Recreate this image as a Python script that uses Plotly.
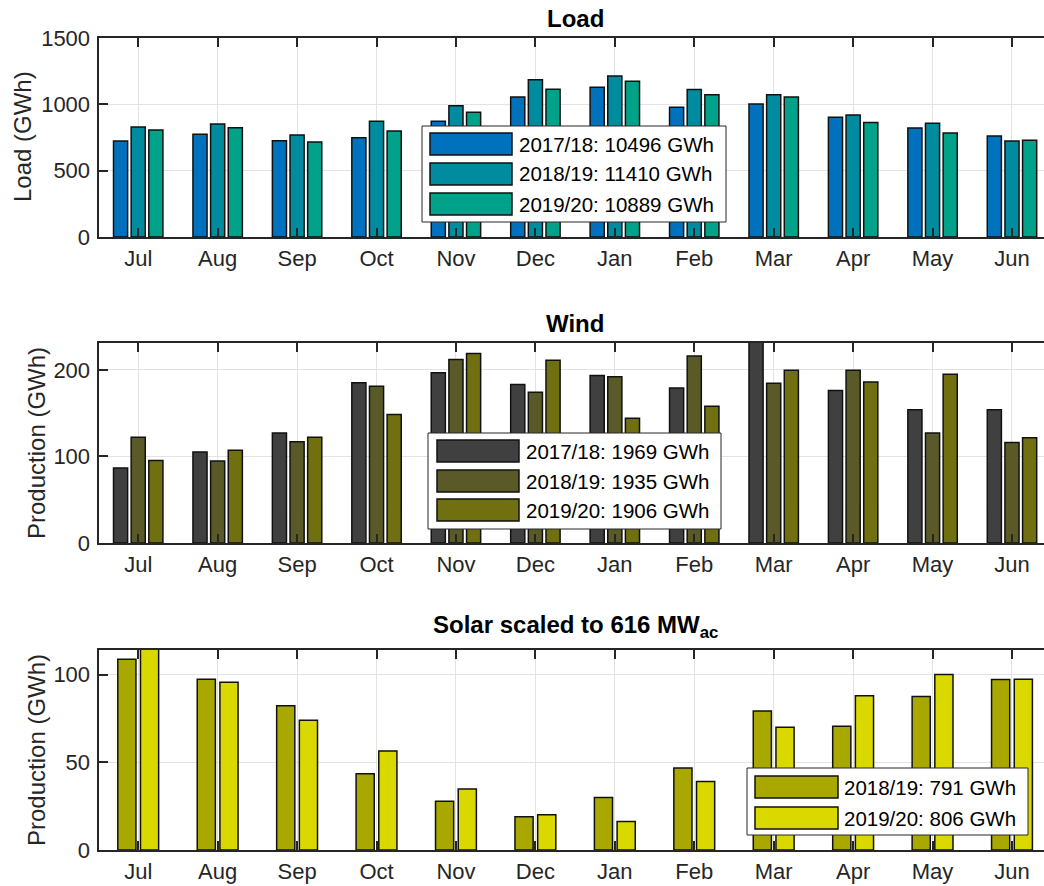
import plotly.graph_objects as go

# ---------------- data ----------------
months = ["Jul", "Aug", "Sep", "Oct", "Nov", "Dec", "Jan", "Feb", "Mar", "Apr", "May", "Jun"]
month_idx = list(range(1, 13))

load_seasons = ["2017/18", "2018/19", "2019/20"]
load_totals = [10496, 11410, 10889]
load_2017_18 = [724, 774, 726, 749, 872, 1055, 1128, 978, 1003, 902, 822, 761]
load_2018_19 = [829, 852, 769, 872, 990, 1186, 1214, 1111, 1073, 920, 857, 724]
load_2019_20 = [807, 824, 716, 799, 940, 1113, 1174, 1073, 1055, 864, 784, 729]

wind_seasons = ["2017/18", "2018/19", "2019/20"]
wind_totals = [1969, 1935, 1906]
wind_2017_18 = [86.5, 105, 127, 185, 196.5, 183, 193.5, 179, 232, 176, 154, 154]
wind_2018_19 = [122, 94.6, 117, 181, 212, 174, 192, 216, 184.6, 199.6, 127, 116]
wind_2019_20 = [95.4, 107, 122, 148.5, 219, 211, 144, 158, 199.6, 186, 195, 121.5]

solar_seasons = ["2018/19", "2019/20"]
solar_totals = [791, 806]
solar_2018_19 = [108.7, 97.3, 82.2, 43.4, 27.8, 18.9, 29.9, 46.8, 79.2, 70.5, 87.5, 97.2]
solar_2019_20 = [115.0, 95.6, 74.0, 56.4, 34.8, 20.1, 16.3, 39.0, 69.9, 87.9, 100.0, 97.3]

# ---------------- styles ----------------
W, H = 1044, 886
FONT = "Liberation Sans, Arial, sans-serif"
AX = "#262626"
load_colors = ["#0072BD", "#008B9F", "#00A38A"]
wind_colors = ["#404040", "#5A5A28", "#707010"]
solar_colors = ["#A8A800", "#D9D900"]


def px_x(p):
    return p / W


def px_y(p):
    return 1 - p / H


panels = [  # (top px, bottom px)
    (38, 237),
    (343, 543),
    (650, 850),
]

fig = go.Figure()


def add_group(series, colors, names, axis_n):
    n = len(series)
    slot = 0.2222 if n == 3 else 0.2857
    bw = slot * 0.8
    for i, (vals, col, nm) in enumerate(zip(series, colors, names)):
        center = (i - (n - 1) / 2) * slot
        fig.add_trace(go.Bar(
            x=month_idx, y=vals, name=nm,
            width=bw, offset=center - bw / 2,
            marker=dict(color=col, line=dict(color="#111111", width=1.5)),
            xaxis="x" if axis_n == 1 else f"x{axis_n}",
            yaxis="y" if axis_n == 1 else f"y{axis_n}",
            showlegend=False,
        ))


add_group([load_2017_18, load_2018_19, load_2019_20], load_colors, load_seasons, 1)
add_group([wind_2017_18, wind_2018_19, wind_2019_20], wind_colors, wind_seasons, 2)
add_group([solar_2018_19, solar_2019_20], solar_colors, solar_seasons, 3)

xdom = [98.5 / W, 1.0]
x_range = [0.5, 12.403]
y_ranges = [[0, 1500], [0, 231], [0, 114]]
y_ticks = [[0, 500, 1000, 1500], [0, 100, 200], [0, 50, 100]]

layout = dict(
    width=W, height=H,
    margin=dict(l=0, r=0, t=0, b=0, pad=0),
    paper_bgcolor="white", plot_bgcolor="white",
    barmode="overlay",
    font=dict(family=FONT, size=22, color=AX),
    showlegend=False,
)

for k in range(3):
    top, bot = panels[k]
    sx = "" if k == 0 else str(k + 1)
    layout[f"xaxis{sx}"] = dict(
        domain=xdom, range=x_range, automargin=False,
        anchor=f"y{sx}",
        tickmode="array", tickvals=month_idx, ticktext=months,
        ticks="inside", ticklen=9, tickwidth=2, tickcolor=AX,
        showline=True, linewidth=2, linecolor=AX, mirror="ticks",
        showgrid=True, gridcolor="#E3E3E3", gridwidth=1,
        zeroline=False, ticklabelstandoff=1,
        tickfont=dict(size=22, color=AX, family=FONT),
    )
    layout[f"yaxis{sx}"] = dict(
        domain=[px_y(bot), px_y(top)], range=y_ranges[k], automargin=False,
        anchor=f"x{sx}",
        tickmode="array", tickvals=y_ticks[k],
        ticks="inside", ticklen=9, tickwidth=2, tickcolor=AX,
        showline=True, linewidth=2, linecolor=AX, mirror=False,
        showgrid=True, gridcolor="#E3E3E3", gridwidth=1,
        zeroline=False, ticklabelstandoff=2,
        tickfont=dict(size=22, color=AX, family=FONT),
    )

fig.update_layout(**layout)

annotations = []
shapes = []

# titles
titles = ["<b>Load</b>", "<b>Wind</b>", "<b>Solar scaled to 616 MW<sub>ac</sub></b>"]
title_y = [18, 323, 626]
for t, ty in zip(titles, title_y):
    annotations.append(dict(text=t, x=px_x(575), y=px_y(ty), xref="paper", yref="paper",
                            xanchor="center", yanchor="middle", showarrow=False,
                            font=dict(size=24, color="black", family=FONT)))

# y titles
ytitles = [("Load (GWh)", 22, 137), ("Production (GWh)", 36, 443), ("Production (GWh)", 36, 750)]
for t, xx, yy in ytitles:
    annotations.append(dict(text=t, x=px_x(xx), y=px_y(yy), xref="paper", yref="paper",
                            xanchor="center", yanchor="middle", showarrow=False, textangle=-90,
                            font=dict(size=24, color=AX, family=FONT)))


# custom legends (wide swatches like the original)
def add_legend(box, sw_x, rows, text_x, names, totals, colors):
    x0, y0, x1, y1 = box
    shapes.append(dict(type="rect", xref="paper", yref="paper",
                       x0=px_x(x0), x1=px_x(x1), y0=px_y(y1), y1=px_y(y0),
                       line=dict(color=AX, width=1), fillcolor="white", layer="above"))
    for (r0, r1), nm, tot, col in zip(rows, names, totals, colors):
        shapes.append(dict(type="rect", xref="paper", yref="paper",
                           x0=px_x(sw_x[0]), x1=px_x(sw_x[1]), y0=px_y(r1), y1=px_y(r0),
                           line=dict(color="#111111", width=1.5), fillcolor=col, layer="above"))
        annotations.append(dict(text=f"{nm}: {tot} GWh", x=px_x(text_x), y=px_y((r0 + r1) / 2),
                                xref="paper", yref="paper", xanchor="left", yanchor="middle",
                                showarrow=False, font=dict(size=20.5, color="black", family=FONT)))


add_legend((422, 126, 726, 222), (430, 512), [(133, 155), (163, 185), (193, 215)], 517,
           load_seasons, load_totals, load_colors)
add_legend((428, 433, 721, 529), (437, 519), [(440, 462), (470, 492), (499, 521)], 524,
           wind_seasons, wind_totals, wind_colors)
add_legend((747, 768, 1028, 835), (755, 838), [(776, 798), (807, 829)], 842,
           solar_seasons, solar_totals, solar_colors)

fig.update_layout(annotations=annotations, shapes=shapes)

fig.write_html("out.html", config={"displayModeBar": False},
               post_script="document.body.style.margin='0px';")
